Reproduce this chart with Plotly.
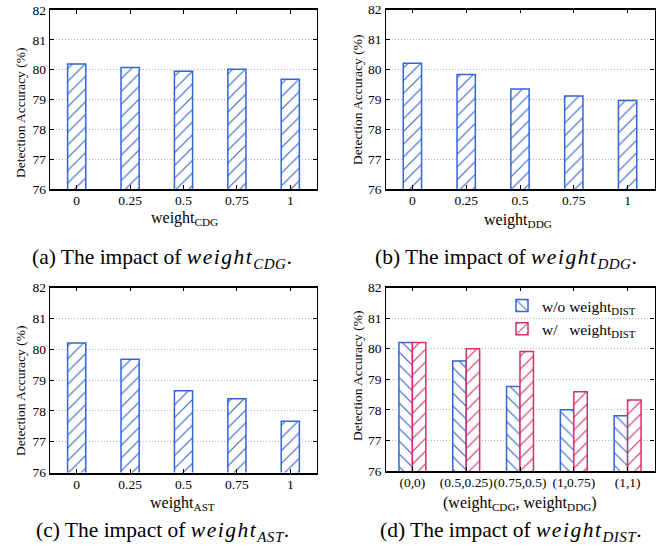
import plotly.graph_objects as go

# ---------------- data ----------------
cats_abc = ["0", "0.25", "0.5", "0.75", "1"]
acc_cdg = [80.19, 80.07, 79.95, 80.01, 79.68]
acc_ddg = [80.20, 79.83, 79.34, 79.11, 78.96]
acc_ast = [80.20, 79.67, 78.65, 78.39, 77.66]

cats_dist = ["(0,0)", "(0.5,0.25)", "(0.75,0.5)", "(1,0.75)", "(1,1)"]
acc_wo_dist = [80.20, 79.60, 78.76, 78.00, 77.81]
acc_w_dist = [80.20, 80.00, 79.91, 78.59, 78.32]

y_ticks = [76, 77, 78, 79, 80, 81, 82]

BLUE = "#3464d6"
RED = "#d42f6a"
FONT = "Liberation Serif, Times New Roman, serif"

fig = go.Figure()

def hatch_bar(x, y, color, shape, xa, ya, name=None, showlegend=False, width=0.34, offset=None):
    kw = dict(
        x=x, y=y, xaxis=xa, yaxis=ya, name=name, showlegend=showlegend, width=width,
        marker=dict(
            color="white",
            line=dict(color=color, width=1.5),
            pattern=dict(shape=shape, fgcolor=color, bgcolor="white", size=9,
                         solidity=0.13, fgopacity=1),
        ),
        hoverinfo="x+y",
    )
    if offset is not None:
        kw["offset"] = offset
    return go.Bar(**kw)

fig.add_trace(hatch_bar(cats_abc, acc_cdg, BLUE, "/", "x", "y", offset=-0.17))
fig.add_trace(hatch_bar(cats_abc, acc_ddg, BLUE, "/", "x2", "y2", offset=-0.17))
fig.add_trace(hatch_bar(cats_abc, acc_ast, BLUE, "/", "x3", "y3", offset=-0.17))
fig.add_trace(hatch_bar(cats_dist, acc_wo_dist, BLUE, "\\", "x4", "y4",
                        name="w/o weight<sub>DIST</sub>", showlegend=True, width=0.25, offset=-0.25))
fig.add_trace(hatch_bar(cats_dist, acc_w_dist, RED, "/", "x4", "y4",
                        name="w/\u00a0\u00a0\u00a0weight<sub>DIST</sub>", showlegend=True, width=0.25, offset=0.0))

W, H = 662, 548
def dx(a, b):
    return [a / W, b / W]
def dy(top, bottom):
    return [1 - bottom / H, 1 - top / H]

xdoms = [dx(50, 317), dx(385.5, 654.5), dx(50, 317), dx(385.5, 654.5)]
ydoms = [dy(10, 189), dy(9.5, 189), dy(287.5, 472.5), dy(287.5, 471)]
xtitles = ["weight<sub>CDG</sub>", "weight<sub>DDG</sub>", "weight<sub>AST</sub>",
           "(weight<sub>CDG</sub>, weight<sub>DDG</sub>)"]
# title positions in pixels (x center, y top / y center)
xtitle_pos = [(184, 207), (518, 209), (183, 492), (520, 492)]
ytitle_pos = [(20, 113), (357, 100), (20, 391), (357, 376)]

layout = dict(
    width=W, height=H, margin=dict(l=0, r=0, t=0, b=0, autoexpand=False),
    paper_bgcolor="white", plot_bgcolor="white",
    font=dict(family=FONT, color="black", size=14),
    barmode="overlay",
    legend=dict(x=641 / W, y=1 - 289 / H, xanchor="right", yanchor="top",
                bgcolor="rgba(0,0,0,0)", font=dict(size=15.5, family=FONT, color="black"),
                tracegroupgap=0, itemwidth=30),
)
for i in range(4):
    sfx = "" if i == 0 else str(i + 1)
    layout["xaxis" + sfx] = dict(
        domain=xdoms[i], anchor="y" + sfx, type="category", range=[-0.5, 4.5],
        showline=True, linecolor="black", linewidth=1.6, mirror="ticks",
        ticks="inside", ticklen=4, tickcolor="black", tickwidth=1.2, tickangle=0,
        ticklabelstandoff=-2,
        tickfont=dict(size=13.5, family=FONT, color="black"), showgrid=False,
        automargin=False, fixedrange=True,
    )
    layout["yaxis" + sfx] = dict(
        domain=ydoms[i], anchor="x" + sfx, range=[76, 82], tickvals=y_ticks,
        showline=True, linecolor="black", linewidth=1.4, mirror="ticks",
        ticks="inside", ticklen=4, tickcolor="black", tickwidth=1.2,
        tickfont=dict(size=13.5, family=FONT, color="black"),
        showgrid=True, gridcolor="#b0b0b0", griddash="1px,2px", gridwidth=1,
        zeroline=False,
        automargin=False, fixedrange=True,
    )

def cap(letter, sub):
    return (f"({letter}) The impact of "
            f"<span style='font-style:italic;letter-spacing:1.5px'>weight</span>"
            f"<sub><span style='font-style:italic;letter-spacing:0.5px'>{sub}</span></sub>.")

captions = [
    (cap("a", "CDG"), 162, 258),
    (cap("b", "DDG"), 506, 258),
    (cap("c", "AST"), 162, 531),
    (cap("d", "DIST"), 511, 531),
]
ann = [
    dict(text=t, x=cx / W, y=1 - cy / H, xref="paper", yref="paper",
         xanchor="center", yanchor="middle", showarrow=False,
         font=dict(size=21.5, family=FONT, color="black"))
    for t, cx, cy in captions
]
for t, (cx, cy) in zip(xtitles, xtitle_pos):
    ann.append(dict(text=t, x=cx / W, y=1 - cy / H, xref="paper", yref="paper",
                    xanchor="center", yanchor="top", showarrow=False,
                    font=dict(size=16, family=FONT, color="black")))
for (cx, cy) in ytitle_pos:
    ann.append(dict(text="Detection Accuracy (%)", x=cx / W, y=1 - cy / H,
                    xref="paper", yref="paper", xanchor="center", yanchor="middle",
                    textangle=-90, showarrow=False,
                    font=dict(size=13.5, family=FONT, color="black")))
layout["annotations"] = ann

fig.update_layout(**layout)
fig.write_html("out.html", config={"displayModeBar": False},
               post_script="document.body.style.margin='0';document.body.style.padding='0';")
